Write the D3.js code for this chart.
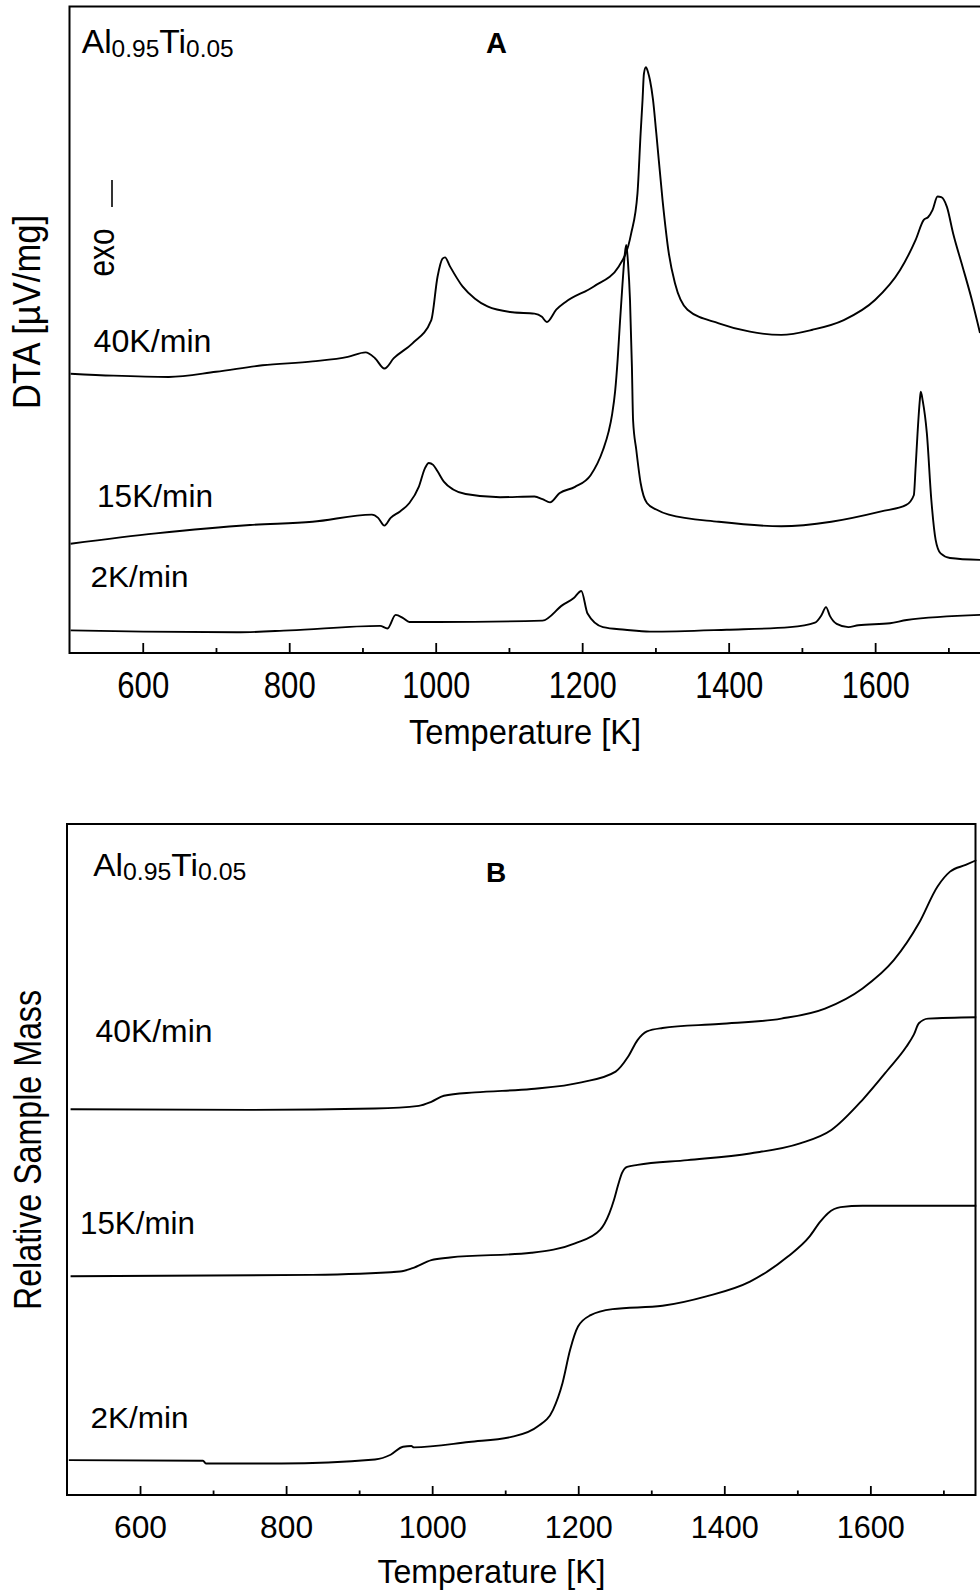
<!DOCTYPE html>
<html>
<head>
<meta charset="utf-8">
<script src="https://cdn.jsdelivr.net/npm/d3@7"></script>
<style>
  html, body { margin: 0; padding: 0; background: #fff; }
  svg { display: block; }
  text { font-family: "Liberation Sans", Arial, Helvetica, sans-serif; fill: #000; }
</style>
</head>
<body>
<svg id="chart" width="980" height="1592"></svg>
<script>
// ---- Data: [temperature K, signal in arbitrary units] ----
const rateLabels = ["40K/min", "15K/min", "2K/min"];
const majorTicks = [600, 800, 1000, 1200, 1400, 1600];
const minorTicks = [700, 900, 1100, 1300, 1500, 1700];
const alloy = { base1: "Al", sub1: "0.95", base2: "Ti", sub2: "0.05" };

// DTA signal (panel A)
const dta40 = [[501.5,43.2],[560,42.9],[635.6,42.7],[700,43.5],[763.5,44.5],[831.8,45.1],[880,45.8],[904.3,46.5],
  [917.1,45.6],[930,44.0],[942.8,45.6],[968.3,47.9],[994,51.5],[1002.5,58.2],[1009.3,61.0],[1012.7,61.2],
  [1019.5,59.8],[1036.6,56.7],[1053.7,54.8],[1070.7,53.6],[1104.9,52.7],[1134.8,52.5],[1145,52.0],[1151.8,51.2],
  [1164.6,53.1],[1177.4,54.3],[1215.9,56.7],[1250,59.8],[1266.7,64.8],[1275.5,71.1],[1279.8,80.4],[1282.4,85.5],
  [1284.3,89.6],[1287,90.6],[1290,89.8],[1292.6,88.6],[1296.7,85.6],[1301.2,80.4],[1309.7,70.1],[1318.3,61.8],[1326.7,57.2],
  [1343.8,53.1],[1386.5,51.0],[1429.1,49.7],[1471.9,49.2],[1514.5,50.0],[1557.2,51.5],[1599.8,54.6],[1633.9,59.2],
  [1655.3,63.9],[1666.4,67.0],[1672.2,67.4],[1678.3,68.5],[1685.2,70.6],[1690.3,70.5],[1698,69.0],[1706.5,64.9],
  [1719.3,59.8],[1732.1,54.6],[1743.2,49.5]];
const dta15 = [[501.5,16.9],[618.1,18.5],[746.4,19.8],[831.8,20.3],[912.9,21.4],[921.4,20.9],[930,19.7],[938.5,20.9],
  [951.3,21.9],[964.1,23.2],[976.9,25.7],[985.4,28.6],[990.6,29.4],[996.5,29.1],[1002.5,28.1],[1011.1,26.5],
  [1023.8,25.3],[1040.8,24.6],[1087.8,24.1],[1134.8,24.2],[1145.8,23.8],[1156.1,23.3],[1168.9,24.7],[1190.2,25.7],
  [1211.5,27.5],[1228.4,31.4],[1236,34.2],[1241,37.0],[1245,40.5],[1248.5,45.5],[1251.5,51.0],[1255,57.0],
  [1258.3,61.8],[1260.2,63.1],[1262.5,60.5],[1265.3,54.6],[1267.9,44.3],[1269.5,36.0],[1273.9,31.4],[1279.8,26.3],
  [1288.4,23.2],[1301.2,22.2],[1318.3,21.4],[1386.5,20.3],[1471.9,19.6],[1540.1,20.3],[1608.4,21.9],[1642.5,22.9],
  [1652.8,24.4],[1655.3,28.8],[1657.9,34.0],[1661,39.1],[1662.3,40.4],[1665,39.0],[1670.6,34.0],[1676.7,23.7],
  [1682.6,17.5],[1689.4,15.4],[1702.2,14.7],[1743.2,14.4]];
const dta2 = [[501.5,3.5],[600.8,3.3],[728.3,3.2],[801.1,3.5],[924,4.2],[934.2,3.8],[945.3,5.9],[955.5,5.4],
  [964.1,4.8],[1002.5,4.8],[1145.8,5.0],[1173.1,7.4],[1188.6,8.5],[1198.8,9.6],[1207.3,6.1],[1228.4,4.0],
  [1258.5,3.6],[1292.6,3.3],[1397.3,3.6],[1483.8,4.0],[1517.9,4.7],[1527,5.9],[1532.9,7.1],[1538.4,5.7],
  [1547.5,4.5],[1563.4,4.0],[1577,4.3],[1620.3,4.6],[1643.1,5.1],[1743.2,5.9]];

// Relative sample mass (panel B)
const mass40 = [[504.9,57.5],[750.6,57.4],[921.7,57.6],[981.7,58.0],[998.8,58.6],[1016,59.5],[1058.7,60.0],
  [1135.8,60.5],[1204.2,61.5],[1251.2,63.1],[1268.2,65.3],[1281.2,67.8],[1294.1,69.1],[1315.4,69.6],[1392.5,70.2],
  [1478.1,71.0],[1537.9,72.5],[1589.3,75.5],[1632.1,79.7],[1666.4,85.2],[1692,90.7],[1709.1,92.9],[1730.5,93.9],
  [1745,94.6]];
const mass15 = [[504.9,32.6],[836.2,32.8],[956,33.3],[973.1,33.8],[998.8,35.0],[1024.4,35.4],[1135.8,36.1],
  [1195.6,37.5],[1229.9,39.5],[1242.7,42.0],[1249,44.0],[1254.6,46.2],[1260,48.0],[1266.9,48.9],[1281.2,49.2],
  [1349.7,49.9],[1435.2,50.9],[1503.7,52.4],[1546.6,54.4],[1589.3,58.9],[1623.5,63.3],[1649.2,66.8],[1659.5,68.6],
  [1666.4,70.3],[1679,71.0],[1745,71.2]];
const mass2 = [[502.5,5.2],[686.2,5.1],[690.3,4.7],[793.4,4.7],[921.7,5.3],[943.1,6.0],[960.1,7.2],[971.5,7.3],
  [974.9,7.1],[1050.2,7.9],[1110,8.7],[1144.3,10.2],[1165.5,12.7],[1178.5,16.7],[1188.8,21.6],[1199.7,25.1],
  [1217,26.8],[1247,27.7],[1315.4,28.2],[1375.4,29.6],[1435.2,31.8],[1486.6,35.5],[1516.6,38.5],[1531.1,40.7],
  [1542,42.0],[1559.3,42.9],[1589.3,43.1],[1745,43.1]];

// ---- Layout ----
const svg = d3.select("#chart");

const panels = [
  {
    id: "A", series: [dta40, dta15, dta2],
    x: d3.scaleLinear([500, 1750], [69.5, 985]),
    y: d3.scaleLinear([0, 100], [653, 6.5]),
    top: 6.5, bottom: 653, left: 69.5, right: null,
    tickFont: 36, tickOffset: 45.3, tickW3: 52, tickW4: 68, majorLen: 10, minorLen: 5,
    xTitle: { cx: 525, y: 743.5, size: 35, w: 232 },
    yTitle: { text: "DTA [\u00b5V/mg]", x: 40, cy: 312, size: 39, w: 194 },
    compound: { x: 81.7, y: 53.3, size: 33, sub: 24, w: 152 },
    letter: { x: 486, y: 53, size: 29 },
    labels: [ { x: 93.5, y: 352, size: 31, w: 118 }, { x: 97, y: 507, size: 31, w: 116 }, { x: 90.5, y: 587, size: 30, w: 98 } ]
  },
  {
    id: "B", series: [mass40, mass15, mass2],
    x: d3.scaleLinear([500, 1743], [67, 974.8]),
    y: d3.scaleLinear([0, 100], [1495, 824]),
    top: 824, bottom: 1495, left: 67, right: 975.5,
    tickFont: 32, tickOffset: 43.3, tickW3: 53, tickW4: 68, majorLen: 9, minorLen: 4.5,
    xTitle: { cx: 491.5, y: 1583.3, size: 33.5, w: 228 },
    yTitle: { text: "Relative Sample Mass", x: 41, cy: 1150, size: 39, w: 320 },
    compound: { x: 93.3, y: 876, size: 31, sub: 23, w: 153 },
    letter: { x: 486, y: 881.7, size: 28 },
    labels: [ { x: 95.5, y: 1042, size: 31, w: 117 }, { x: 80, y: 1233.5, size: 31, w: 115 }, { x: 90.5, y: 1427.5, size: 30, w: 98 } ]
  }
];

function fitText(sel, w) {
  return sel.attr("textLength", w).attr("lengthAdjust", "spacingAndGlyphs");
}

panels.forEach(p => {
  const g = svg.append("g").attr("class", "panel-" + p.id);

  // frame
  const frame = d3.path();
  if (p.right == null) {
    frame.moveTo(980, p.top); frame.lineTo(p.left, p.top); frame.lineTo(p.left, p.bottom); frame.lineTo(980, p.bottom);
  } else {
    frame.moveTo(p.right, p.top); frame.lineTo(p.left, p.top); frame.lineTo(p.left, p.bottom);
    frame.lineTo(p.right, p.bottom); frame.closePath();
  }
  g.append("path").attr("d", frame.toString()).attr("fill", "none")
    .attr("stroke", "#000").attr("stroke-width", 2);

  // axes: long inward ticks with labels, short inward minor ticks
  const major = g.append("g").attr("transform", `translate(0,${p.bottom})`)
    .call(d3.axisBottom(p.x).tickValues(majorTicks).tickSize(-p.majorLen).tickFormat(d3.format("d")));
  major.select(".domain").remove();
  major.selectAll(".tick line").attr("stroke", "#000").attr("stroke-width", 1.8);
  major.selectAll(".tick text")
    .attr("y", p.tickOffset).attr("dy", null)
    .attr("font-size", p.tickFont)
    .each(function(d) { fitText(d3.select(this), String(d).length === 3 ? p.tickW3 : p.tickW4); });

  const minor = g.append("g").attr("transform", `translate(0,${p.bottom})`)
    .call(d3.axisBottom(p.x).tickValues(minorTicks).tickSize(-p.minorLen).tickFormat(""));
  minor.select(".domain").remove();
  minor.selectAll(".tick line").attr("stroke", "#000").attr("stroke-width", 1.8);

  // curves
  const line = d3.line().x(d => p.x(d[0])).y(d => p.y(d[1])).curve(d3.curveMonotoneX);
  g.selectAll("path.curve").data(p.series).join("path")
    .attr("class", "curve").attr("d", line)
    .attr("fill", "none").attr("stroke", "#000").attr("stroke-width", 1.9)
    .attr("stroke-linejoin", "round");

  // heating-rate labels
  g.selectAll("text.rate").data(p.labels).join("text")
    .attr("class", "rate")
    .attr("x", d => d.x).attr("y", d => d.y)
    .attr("font-size", d => d.size)
    .text((d, i) => rateLabels[i])
    .each(function(d) { fitText(d3.select(this), d.w); });

  // alloy composition
  const c = p.compound;
  const comp = g.append("text").attr("x", c.x).attr("y", c.y).attr("font-size", c.size);
  comp.append("tspan").text(alloy.base1);
  comp.append("tspan").attr("font-size", c.sub).attr("dy", 3.5).text(alloy.sub1);
  comp.append("tspan").attr("dy", -3.5).text(alloy.base2);
  comp.append("tspan").attr("font-size", c.sub).attr("dy", 3.5).text(alloy.sub2);
  fitText(comp, c.w);

  // panel letter
  g.append("text").attr("x", p.letter.x).attr("y", p.letter.y)
    .attr("font-size", p.letter.size).attr("font-weight", "bold").text(p.id);

  // axis titles
  fitText(g.append("text").attr("x", p.xTitle.cx).attr("y", p.xTitle.y)
    .attr("text-anchor", "middle").attr("font-size", p.xTitle.size).text("Temperature [K]"), p.xTitle.w);
  fitText(g.append("text").attr("transform", `translate(${p.yTitle.x},${p.yTitle.cy}) rotate(-90)`)
    .attr("text-anchor", "middle").attr("font-size", p.yTitle.size).text(p.yTitle.text), p.yTitle.w);
});

// exothermic direction marker in panel A
const markA = svg.append("g").attr("class", "exo");
fitText(markA.append("text").attr("transform", "translate(113.5,252.5) rotate(-90)")
  .attr("text-anchor", "middle").attr("font-size", 36).text("exo"), 48);
markA.append("line").attr("x1", 112).attr("x2", 112).attr("y1", 180).attr("y2", 207)
  .attr("stroke", "#000").attr("stroke-width", 1.6);
</script>
</body>
</html>
